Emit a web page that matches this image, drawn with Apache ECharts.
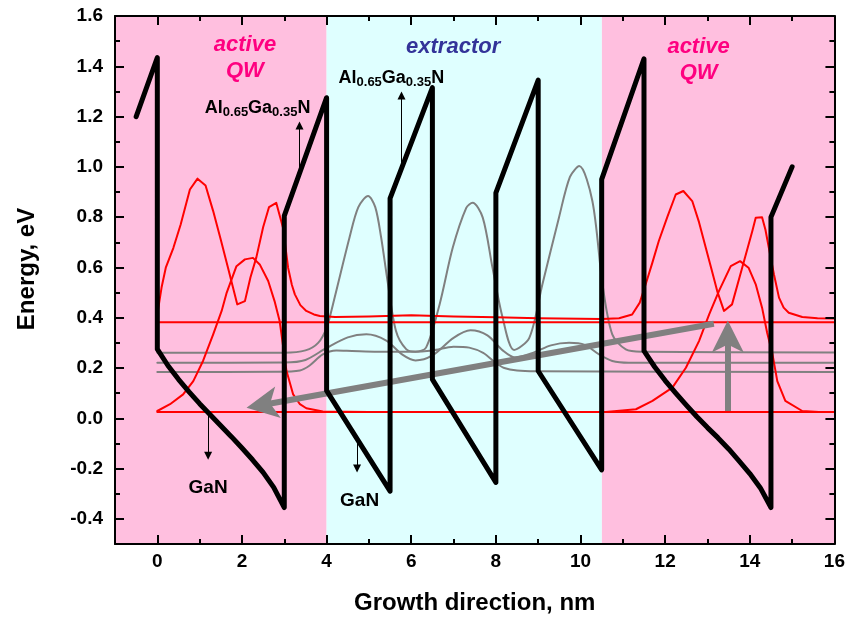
<!DOCTYPE html>
<html><head><meta charset="utf-8">
<script src="https://cdn.jsdelivr.net/npm/echarts@6/dist/echarts.min.js"></script>
<style>html,body{margin:0;padding:0;background:#fff}#c{width:848px;height:622px}</style>
</head><body><div id="c"></div>
<script>
// ---- data (nm, eV) ----
const bandEdge = [[-0.5,1.2],[0,1.435],[0,0.275],[0.25,0.21],[0.5,0.155],[0.75,0.105],[1.0,0.058],[1.25,0.014],[1.5,-0.03],[1.75,-0.073],[2.0,-0.118],[2.25,-0.165],[2.5,-0.215],[2.75,-0.275],[3.0,-0.355],
 [3.0,0.805],[4.0,1.275],[4.0,0.11],[5.5,-0.29],[5.5,0.875],[6.5,1.315],[6.5,0.155],[8.0,-0.255],[8.0,0.897],[9.0,1.345],[9.0,0.188],[10.5,-0.205],[10.5,0.95],[11.5,1.43],[11.5,0.268],
 [11.75,0.205],[12.0,0.15],[12.25,0.1],[12.5,0.052],[12.75,0.006],[13.0,-0.037],[13.25,-0.078],[13.5,-0.122],[13.75,-0.17],[14.0,-0.22],[14.25,-0.277],[14.5,-0.355],[14.5,0.8],[15.0,1.0]];

const upperState = [[0,0.413],[0.1,0.52],[0.2,0.599],[0.38,0.678],[0.55,0.77],[0.77,0.91],[0.95,0.953],[1.14,0.926],[1.32,0.824],[1.5,0.71],[1.67,0.599],[1.89,0.453],[2.07,0.466],[2.2,0.56],[2.34,0.64],[2.5,0.76],[2.64,0.84],[2.81,0.857],[2.97,0.758],[3.09,0.599],[3.18,0.53],[3.25,0.493],[3.38,0.45],[3.52,0.427],[3.7,0.413],[3.84,0.407],[4.2,0.403],[5,0.405],[6,0.41],[7,0.405],[8,0.402],[9,0.398],[10,0.396],[10.5,0.395],[10.91,0.398],[11.22,0.413],[11.4,0.46],[11.54,0.533],[11.7,0.62],[11.85,0.705],[12.05,0.8],[12.25,0.89],[12.43,0.904],[12.64,0.864],[12.8,0.78],[12.96,0.678],[13.1,0.59],[13.23,0.506],[13.39,0.427],[13.58,0.453],[13.82,0.599],[14.06,0.745],[14.14,0.798],[14.29,0.8],[14.37,0.75],[14.45,0.678],[14.57,0.573],[14.69,0.48],[14.8,0.44],[14.92,0.42],[15.24,0.403],[15.6,0.398],[16,0.397]];

const lowerState = [[0,0.029],[0.3,0.056],[0.61,0.095],[0.85,0.148],[1.08,0.228],[1.32,0.334],[1.52,0.427],[1.64,0.5],[1.87,0.605],[2.07,0.632],[2.26,0.638],[2.42,0.612],[2.62,0.546],[2.77,0.466],[2.89,0.387],[2.97,0.29],[3.05,0.19],[3.21,0.095],[3.37,0.056],[3.52,0.04],[3.91,0.027],[5,0.025],[8,0.025],[10.6,0.025],[11.31,0.036],[11.7,0.069],[12.17,0.122],[12.49,0.201],[12.8,0.307],[13.04,0.413],[13.27,0.506],[13.55,0.605],[13.77,0.625],[13.97,0.599],[14.14,0.533],[14.29,0.44],[14.41,0.34],[14.53,0.26],[14.65,0.148],[14.84,0.069],[15.24,0.029],[15.63,0.025],[16,0.025]];

const extractor1 = [[0,0.261],[3.0,0.261],[3.5,0.27],[3.8,0.3],[4.0,0.36],[4.15,0.453],[4.54,0.718],[4.75,0.84],[4.98,0.884],[5.15,0.84],[5.29,0.718],[5.44,0.546],[5.64,0.347],[5.88,0.275],[6.1,0.265],[6.35,0.281],[6.67,0.453],[6.98,0.678],[7.3,0.837],[7.45,0.857],[7.69,0.798],[7.92,0.599],[8.16,0.40],[8.43,0.272],[8.79,0.32],[9.1,0.533],[9.49,0.798],[9.75,0.96],[9.97,1.003],[10.28,0.864],[10.52,0.533],[10.75,0.334],[11.07,0.274],[11.46,0.265],[16,0.262]];

const extractor2 = [[0,0.221],[3.0,0.222],[3.5,0.232],[4.0,0.28],[4.5,0.322],[4.94,0.334],[5.4,0.31],[5.8,0.252],[6.1,0.23],[6.5,0.25],[7.0,0.32],[7.4,0.35],[7.8,0.33],[8.16,0.27],[8.45,0.242],[8.9,0.262],[9.3,0.29],[9.73,0.30],[10.1,0.292],[10.44,0.254],[10.75,0.228],[11.14,0.221],[16,0.221]];

const extractor3 = [[0,0.184],[2.8,0.185],[3.37,0.19],[3.6,0.21],[3.91,0.254],[4.23,0.27],[4.6,0.268],[5.2,0.265],[6.0,0.265],[6.5,0.27],[7.0,0.285],[7.37,0.281],[7.7,0.26],[8.0,0.22],[8.2,0.2],[8.5,0.19],[8.94,0.187],[16,0.184]];

const upperLevel = [[0,0.382],[16,0.382]];
const lowerLevel = [[0,0.025],[16,0.025]];

// regions: [from, to]
const activeRegions = [[-1,4],[10.5,16]];
const extractorRegions = [[4,10.5]];

// annotation arrows: [x0, y0, x1, y1]
const thinArrows = [[3.36,0.983,3.36,1.164],[5.77,0.99,5.77,1.284],[1.2,0.017,1.2,-0.149],[4.72,-0.082,4.72,-0.2]];
const thickArrows = [[13.15,0.376,2.48,0.053],[13.48,0.029,13.48,0.325]];

// text annotations
const regionTexts = [['active\nQW',2.07,1.433],['active\nQW',12.79,1.424]];
const extractorText = [['extractor',6.99,1.476]];
const alloyTexts = [[2.37,1.233],[5.53,1.354]];
const ganTexts = [[1.2,-0.276],[4.78,-0.329]];

const xLimits = [-1,16];
const yLimits = [-0.5,1.6];

// ---- chart ----
const F = '"Liberation Sans", Arial, Helvetica, sans-serif';
const PINK = '#FFBFDF', CYAN = '#DFFFFF';
const chart = echarts.init(document.getElementById('c'), null, {renderer:'canvas'});

function axisCommon(showLabels, isX){
  return {
    type:'value', z:10,
    axisLine:{show:true, onZero:false, lineStyle:{color:'#000', width:2}},
    axisTick:{show:true, inside:true, length:9, lineStyle:{color:'#000', width:2}},
    minorTick:{show:true, splitNumber:2, length:5, lineStyle:{color:'#000', width:2}},
    splitLine:{show:false}, minorSplitLine:{show:false},
    axisLabel:{show:showLabels, fontSize:19, fontWeight:'bold', color:'#000', fontFamily:F,
      margin: isX ? 8 : 12,
      formatter: isX ? (v => (Math.abs(v % 2) < 1e-9 ? String(v) : ''))
                     : (v => (Math.abs(v - yLimits[0]) < 1e-9 ? '' : v.toFixed(1)))}
  };
}

const xBottom = Object.assign(axisCommon(true,true), {min:xLimits[0], max:xLimits[1], splitNumber:8, position:'bottom',
  name:'Growth direction, nm', nameLocation:'middle', nameGap:47,
  nameTextStyle:{fontSize:24, fontWeight:'bold', color:'#000', fontFamily:F}});
const xTop = Object.assign(axisCommon(false,true), {min:xLimits[0], max:xLimits[1], splitNumber:8, position:'top'});
const yLeft = Object.assign(axisCommon(true,false), {min:yLimits[0], max:yLimits[1], splitNumber:10, position:'left',
  name:'Energy, eV', nameLocation:'middle', nameGap:76,
  nameTextStyle:{fontSize:24, fontWeight:'bold', color:'#000', fontFamily:F, padding:[0,0,0,22]}});
const yRight = Object.assign(axisCommon(false,false), {min:yLimits[0], max:yLimits[1], splitNumber:10, position:'right'});

function curve(data, color, width, smooth, z){
  return {type:'line', data:data, symbol:'none', showSymbol:false, silent:true, animation:false,
    smooth:smooth, z:z, lineStyle:{color:color, width:width, join:'round', cap:'round'}};
}

const HEAD = 'path://M0,0L16,32L0,24L-16,32Z';
const THIN = 'path://M0,0L5,11L-5,11Z';

function arrowSeries(list, color, width, head, size, z){
  return {type:'line', data:[], silent:true, animation:false, z:z,
    markLine:{silent:true, animation:false, symbol:['none', head], symbolSize:size,
      lineStyle:{color:color, width:width, type:'solid', cap:'butt', opacity:1}, label:{show:false},
      emphasis:{disabled:true},
      data:list.map(a => [{coord:[a[0],a[1]]},{coord:[a[2],a[3]]}])}};
}

function textSeries(items, labelCfg, z){
  return {type:'scatter', symbolSize:0, silent:true, animation:false, z:z,
    itemStyle:{opacity:1},
    data:items.map(t => ({value:[t[t.length-2], t[t.length-1]], name: typeof t[0]==='string' ? t[0] : ''})),
    label:Object.assign({show:true, position:'inside', opacity:1}, labelCfg)};
}

const bg = {type:'line', data:[], z:1, silent:true, animation:false,
  markArea:{silent:true, animation:false,
    data: activeRegions.map(r => [{xAxis:r[0], itemStyle:{color:PINK, opacity:1}},{xAxis:r[1]}])
      .concat(extractorRegions.map(r => [{xAxis:r[0], itemStyle:{color:CYAN, opacity:1}},{xAxis:r[1]}]))}};

const option = {
  animation:false,
  backgroundColor:'#fff',
  grid:{left:115, right:12, top:16, bottom:78},
  xAxis:[xBottom, xTop],
  yAxis:[yLeft, yRight],
  series:[
    bg,
    curve(extractor1,'#808080',2,0.3,3),
    curve(extractor2,'#808080',2,0.3,3),
    curve(extractor3,'#808080',2,0.3,3),
    curve(upperLevel,'#FF0000',2,false,4),
    curve(lowerLevel,'#FF0000',2,false,4),
    curve(upperState,'#FF0000',2,false,4),
    curve(lowerState,'#FF0000',2,false,4),
    arrowSeries(thickArrows,'#808080',6,HEAD,32,5),
    curve(bandEdge,'#000000',5,false,6),
    arrowSeries(thinArrows,'#000000',1,THIN,8,7),
    textSeries(regionTexts,{formatter:p => p.name.split('\n').map(s => '{a|'+s+'}').join('\n'),
      rich:{a:{fontSize:22, fontWeight:'bold', fontStyle:'italic', color:'#FF0080', fontFamily:F, lineHeight:26, align:'center'}}}, 8),
    textSeries(extractorText,{formatter:'{b}', fontSize:22, fontWeight:'bold', fontStyle:'italic', color:'#333399', fontFamily:F}, 8),
    textSeries(alloyTexts,{formatter:'{n|Al}{s|0.65}{n|Ga}{s|0.35}{n|N}',
      rich:{n:{fontSize:18, fontWeight:'bold', color:'#000', fontFamily:F, lineHeight:22},
            s:{fontSize:13, fontWeight:'bold', color:'#000', fontFamily:F, lineHeight:10, verticalAlign:'bottom'}}}, 8),
    textSeries(ganTexts,{formatter:'GaN', fontSize:19, fontWeight:'bold', color:'#000', fontFamily:F}, 8)
  ]
};
chart.setOption(option);
</script>
</body></html>
